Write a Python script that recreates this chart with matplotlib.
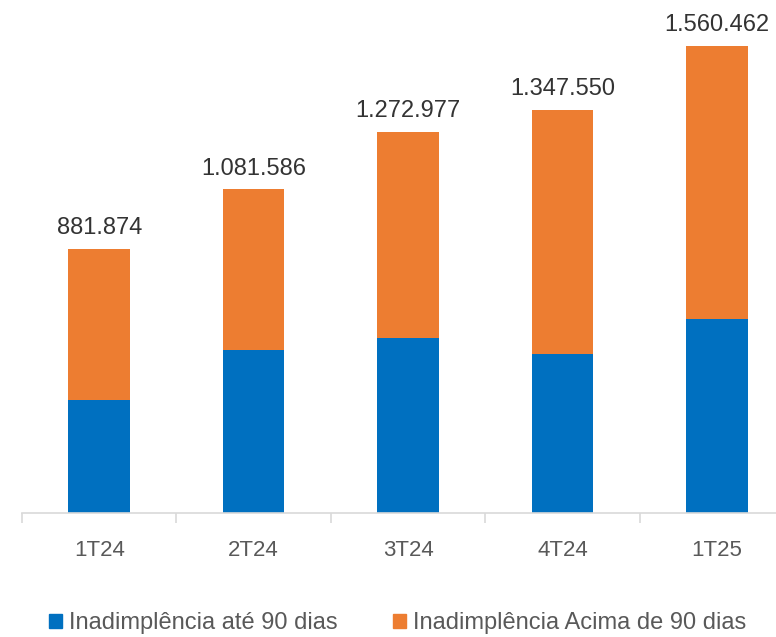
import matplotlib.pyplot as plt
from matplotlib.patches import Patch

plt.rcParams["font.family"] = ["Liberation Sans", "DejaVu Sans"]

trimestres = ["1T24", "2T24", "3T24", "4T24", "1T25"]
ate_90 = [377000, 545000, 587000, 531000, 648000]
acima_90 = [504874, 536586, 685977, 816550, 912462]
totais = ["881.874", "1.081.586", "1.272.977", "1.347.550", "1.560.462"]

azul = "#0070C0"
laranja = "#ED7D31"
cinza = "#595959"

fig = plt.figure(figsize=(7.76, 6.37), dpi=100)
ax = fig.add_axes([22 / 776, 1 - 513.3 / 637, 772 / 776, 513.3 / 637])

x = list(range(len(trimestres)))
ax.bar(x, ate_90, width=0.4, color=azul, zorder=2)
ax.bar(x, acima_90, width=0.4, bottom=ate_90, color=laranja, zorder=2)

for xi, b, o, txt in zip(x, ate_90, acima_90, totais):
    ax.annotate(txt, (xi, b + o), xytext=(0, 7), textcoords="offset points",
                ha="center", va="bottom", fontsize=17, color="#333333")

ax.set_xlim(-0.5, 4.5)
ax.set_ylim(0, 1714000)

ax.set_xticks(x)
ax.set_xticklabels(trimestres, fontsize=16, color=cinza)
ax.tick_params(axis="x", which="major", length=0, pad=19)
ax.set_xticks([i + 0.5 for i in range(-1, 4)], minor=True)
ax.tick_params(axis="x", which="minor", length=7, color="#d9d9d9", width=1.2)

ax.get_yaxis().set_visible(False)
for lado in ["top", "left", "right"]:
    ax.spines[lado].set_visible(False)
ax.spines["bottom"].set_color("#d9d9d9")
ax.spines["bottom"].set_linewidth(1.2)

handles = [Patch(color=azul, label="Inadimplência até 90 dias"),
           Patch(color=laranja, label="Inadimplência Acima de 90 dias")]
leg = fig.legend(handles=handles, loc="center", bbox_to_anchor=(0.5125, 1 - 623 / 637),
                 ncol=2, frameon=False, fontsize=17, handlelength=0.55,
                 handleheight=0.55, handletextpad=0.3, columnspacing=2.35)
for t in leg.get_texts():
    t.set_color(cinza)

fig.savefig("out.png", dpi=100)
